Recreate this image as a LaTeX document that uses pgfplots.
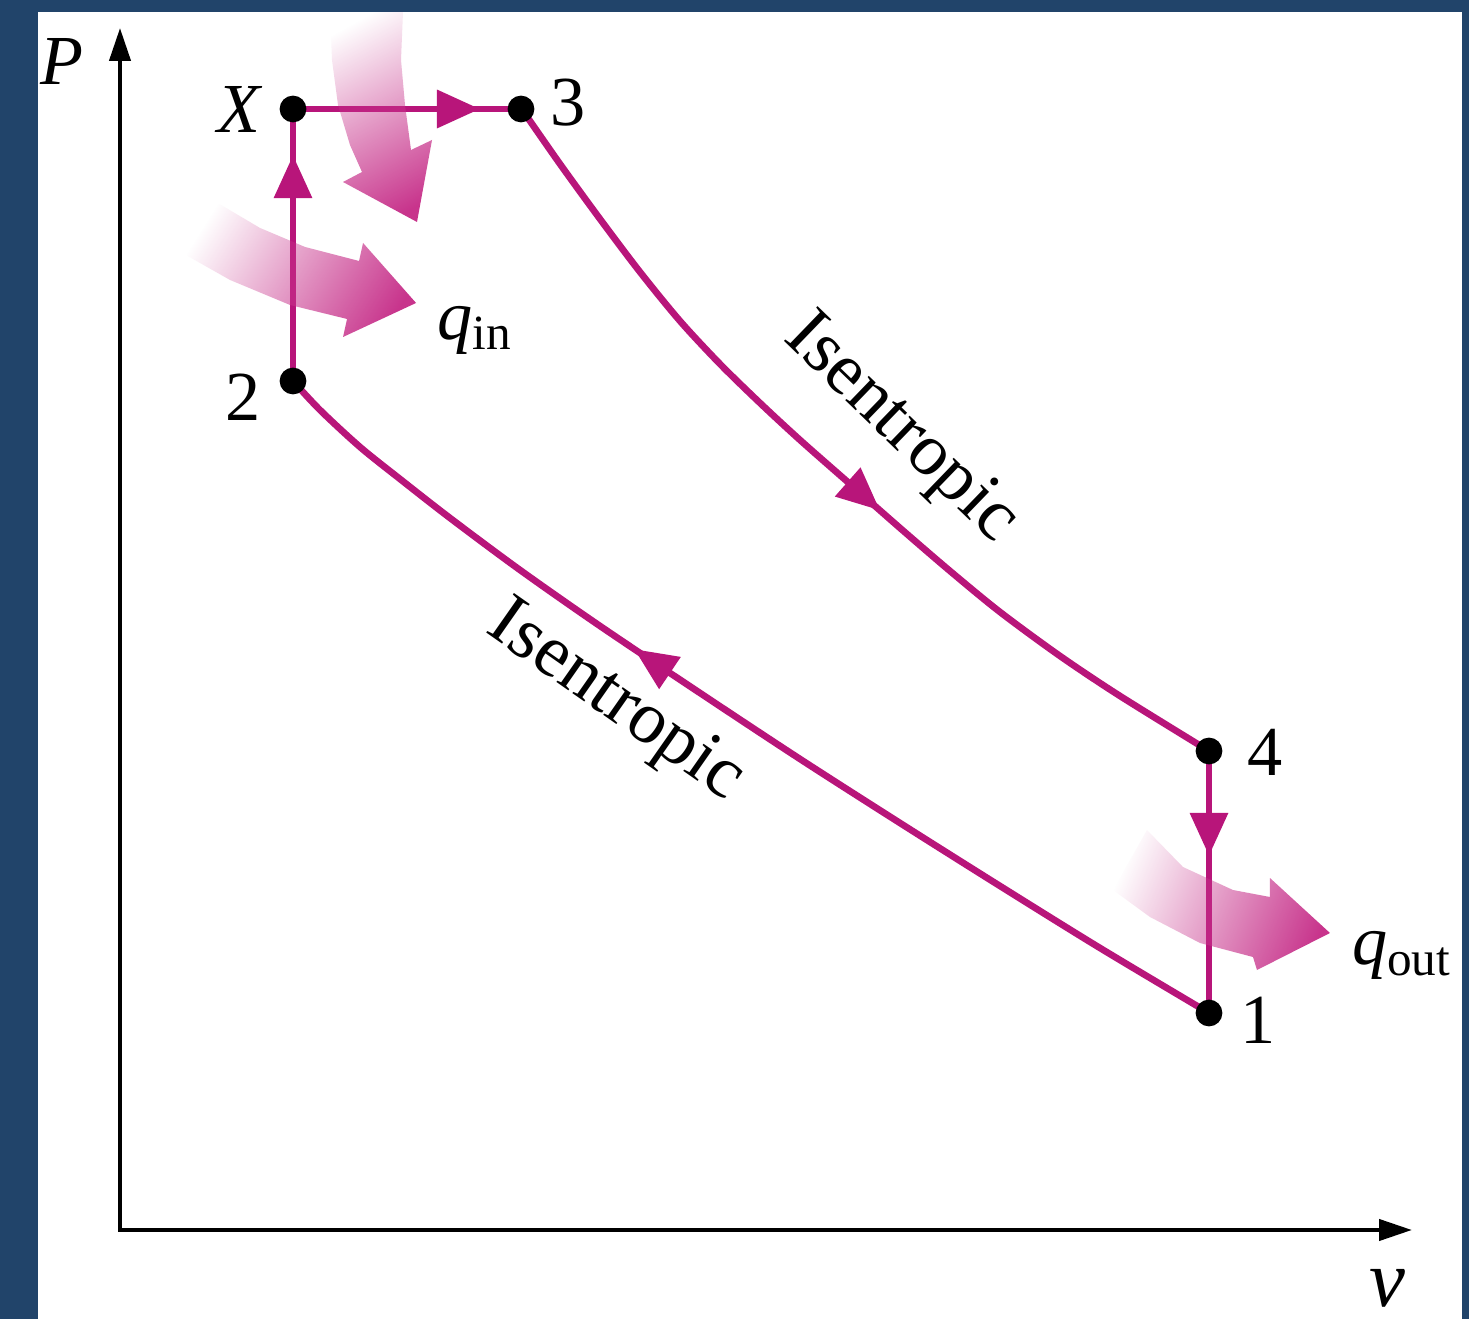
\documentclass[border=0pt]{standalone}
\usepackage{fontspec}
\setmainfont{Liberation Serif}
\usepackage{pgfplots}
\pgfplotsset{compat=1.18}
\usetikzlibrary{arrows.meta,decorations.markings,fadings}
\definecolor{bgblue}{HTML}{21446A}
\definecolor{cyc}{HTML}{B8157A}
\definecolor{heat}{HTML}{C8348C}
\tikzfading[name=fadeR, left color=transparent!100, right color=transparent!0]
\tikzset{midarrow/.style={postaction={decorate},
  decoration={markings, mark=at position #1 with {\arrow{Triangle[length=4.3mm,width=3.7mm]}}}}}
\newcommand{\lab}{\fontsize{20}{24}\selectfont}

\begin{document}
\begin{tikzpicture}
\begin{axis}[
  width=14.69cm, height=13.19cm, scale only axis,
  xmin=-120, xmax=1349, ymin=-89, ymax=1230,
  hide axis, clip=false,
]
% frame
\fill[bgblue] (axis cs:-120,-89) rectangle (axis cs:1349,1230);
\fill[white] (axis cs:-82,-89) rectangle (axis cs:1342,1218);

% P-v axes
\draw[line width=1.2pt, {Triangle[length=3.3mm,width=2.1mm]}-{Triangle[length=3.3mm,width=2.1mm]}]
  (axis cs:0,1202) -- (axis cs:0,0) -- (axis cs:1292,0);

% cycle: 2 -> X -> 3 -> 4 -> 1 -> 2
\addplot[cyc, line width=1.9pt, no markers, midarrow=0.83] coordinates {(173,849) (173,1121)};
\addplot[cyc, line width=1.9pt, no markers, midarrow=0.82] coordinates {(173,1121) (401,1121)};
\addplot[cyc, line width=1.9pt, no markers, smooth, midarrow=0.57] coordinates {
  (401,1122) (440,1066) (480,1011) (520,958) (560,909) (600,866) (640,827)
  (680,790) (730,746) (780,702) (830,659) (880,618) (940,574) (1000,534)
  (1089,479)};
\addplot[cyc, line width=1.9pt, no markers, midarrow=0.40] coordinates {(1089,479) (1089,217)};
\addplot[cyc, line width=1.9pt, no markers, smooth, midarrow=0.61] coordinates {
  (1089,217) (980,282) (880,344) (780,407) (680,471) (580,537) (480,604)
  (400,660) (330,712) (280,751) (240,783) (200,820) (173,849)};

% heat transfer arrows
\addplot[draw=none, fill=heat, path fading=fadeR, fading angle=-75, forget plot] coordinates {
  (210,1218) (212,1170) (218,1125) (230,1085) (242,1058) (223,1048) (297,1008)
  (312,1090) (291,1080) (285,1125) (281,1170) (283,1218)} -- cycle;
\addplot[draw=none, fill=heat, path fading=fadeR, fading angle=-20, forget plot] coordinates {
  (96,1028) (140,1002) (185,983) (239,969) (243,987) (296,927) (223,893)
  (227,911) (170,925) (110,950) (64,976)} -- cycle;
\addplot[draw=none, fill=heat, path fading=fadeR, fading angle=-15, forget plot] coordinates {
  (1027,400) (1063,363) (1113,340) (1150,333) (1150,352) (1210,297) (1137,260)
  (1133,273) (1080,287) (1030,313) (993,340)} -- cycle;

% state points
\addplot[only marks, mark=*, mark size=3.6pt, black] coordinates {
  (173,1121) (401,1121) (173,849) (1089,479) (1089,217)};

% labels
\node at (axis cs:-58,1168) {\lab\textit{P}};
\node[inner sep=0pt] at (axis cs:1267,-58) {\fontsize{23}{26}\selectfont\textit{v}};
\node at (axis cs:120,1120) {\lab\textit{X}};
\node at (axis cs:448,1127) {\lab 3};
\node at (axis cs:123,833) {\lab 2};
\node at (axis cs:1145,478) {\lab 4};
\node at (axis cs:1138,210) {\lab 1};
\node at (axis cs:355,900) {\lab\textit{q}\textsubscript{in}};
\node at (axis cs:1282,275) {\lab\textit{q}\textsubscript{out}};
\node[rotate=-44] at (axis cs:780,800) {\fontsize{21}{25}\selectfont Isentropic};
\node[rotate=-35] at (axis cs:495,527) {\fontsize{21}{25}\selectfont Isentropic};
\end{axis}
\end{tikzpicture}
\end{document}
